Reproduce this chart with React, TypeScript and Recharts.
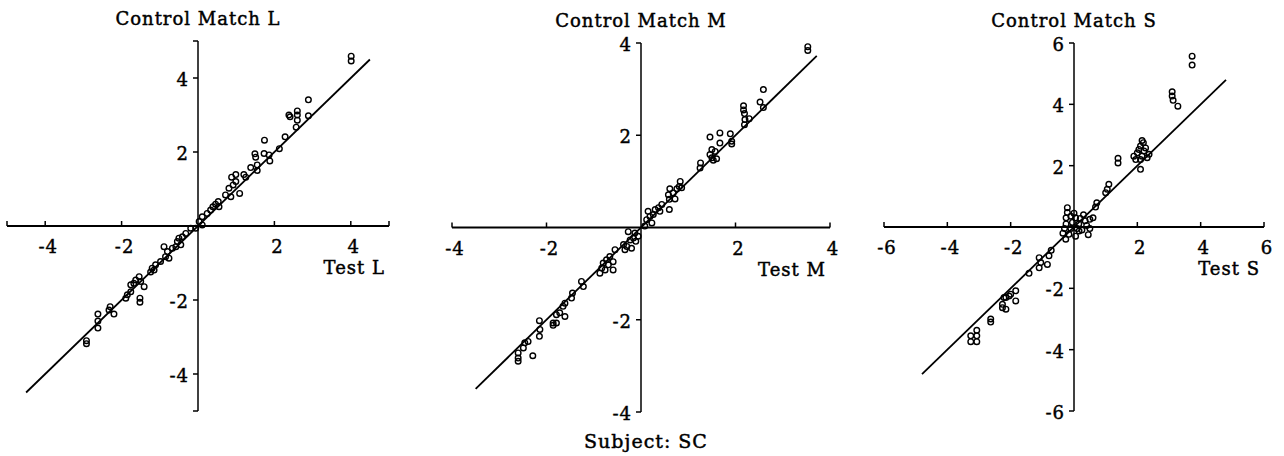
import React from 'react';
import { ScatterChart, Scatter, XAxis, YAxis, ReferenceLine, ReferenceDot } from 'recharts';

const FONT = '"DejaVu Serif", serif';

// ---------- Panel L ----------
const testL = [4.01, 4.01, 2.89, 2.89, 2.38, 2.41, 2.6, 2.6, 2.6, 2.57, 2.28, 2.13, 1.74, 1.49, 1.51, 1.73, 1.86, 1.88, 1.55, 1.55, 1.38, 1.2, 1.25, 0.99, 0.88, 0.99, 0.92, 1.09, 0.81, 0.86, 0.72, 0.53, 0.46, 0.39, 0.33, 0.55, 0.24, 0.11, 0.03, 0.11, -0.06, -0.19, -0.32, -0.41, -0.5, -0.54, -0.45, -0.58, -0.67, -0.8, -0.76, -0.89, -0.85, -0.98, -1.11, -1.2, -1.15, -1.24, -1.54, -1.63, -1.68, -1.76, -1.5, -1.41, -1.76, -1.85, -1.89, -1.52, -1.52, -2.3, -2.33, -2.2, -2.62, -2.62, -2.62, -2.92, -2.92];
const controlL = [4.59, 4.46, 3.41, 2.98, 3.0, 2.95, 3.11, 3.0, 2.86, 2.67, 2.41, 2.09, 2.32, 1.95, 1.86, 1.96, 1.92, 1.76, 1.65, 1.5, 1.58, 1.39, 1.32, 1.39, 1.32, 1.2, 1.11, 0.88, 1.02, 0.79, 0.84, 0.66, 0.59, 0.52, 0.43, 0.52, 0.34, 0.25, 0.12, 0.03, -0.06, -0.06, -0.2, -0.29, -0.33, -0.42, -0.51, -0.56, -0.6, -0.69, -0.87, -0.56, -0.83, -0.96, -1.05, -1.14, -1.19, -1.24, -1.37, -1.46, -1.55, -1.59, -1.5, -1.64, -1.78, -1.86, -1.95, -1.95, -2.06, -2.18, -2.27, -2.38, -2.38, -2.57, -2.76, -3.1, -3.18];
const ticksL = [-4, -2, 2, 4];

// ---------- Panel M ----------
const testM = [3.53, 3.53, 2.59, 2.52, 2.59, 2.17, 2.17, 2.19, 2.2, 2.19, 2.29, 1.89, 1.92, 1.92, 1.67, 1.67, 1.46, 1.5, 1.57, 1.46, 1.5, 1.6, 1.53, 1.26, 1.25, 0.83, 0.81, 0.76, 0.86, 0.68, 0.61, 0.58, 0.72, 0.6, 0.44, 0.37, 0.3, 0.15, 0.26, 0.4, 0.6, 0.19, 0.12, 0.23, 0.08, -0.27, -0.13, -0.16, -0.06, -0.23, -0.11, -0.3, -0.2, -0.37, -0.34, -0.55, -0.66, -0.73, -0.59, -0.8, -0.69, -0.83, -0.76, -0.87, -0.59, -1.26, -1.22, -1.45, -1.47, -1.61, -1.65, -1.72, -1.61, -1.79, -1.86, -1.79, -1.86, -2.15, -2.14, -2.15, -2.46, -2.49, -2.39, -2.6, -2.6, -2.6, -2.29];
const controlM = [3.92, 3.84, 2.99, 2.72, 2.6, 2.64, 2.55, 2.47, 2.34, 2.23, 2.36, 2.03, 1.87, 1.81, 2.05, 1.83, 1.96, 1.69, 1.65, 1.58, 1.51, 1.49, 1.46, 1.4, 1.29, 1.0, 0.89, 0.84, 0.86, 0.75, 0.84, 0.71, 0.62, 0.61, 0.5, 0.43, 0.39, 0.35, 0.28, 0.35, 0.39, 0.24, 0.17, 0.1, 0.03, -0.09, -0.12, -0.23, -0.19, -0.27, -0.3, -0.41, -0.45, -0.37, -0.48, -0.48, -0.63, -0.7, -0.74, -0.77, -0.81, -0.88, -0.92, -0.99, -0.92, -1.17, -1.28, -1.42, -1.53, -1.64, -1.71, -1.85, -1.93, -1.89, -2.07, -2.07, -2.12, -2.02, -2.21, -2.36, -2.5, -2.61, -2.47, -2.72, -2.83, -2.9, -2.78];
const ticksM = [-4, -2, 2, 4];

// ---------- Panel S ----------
const testS = [3.73, 3.73, 3.1, 3.1, 3.13, 3.28, 2.15, 2.19, 2.1, 2.26, 2.05, 1.89, 1.95, 2.15, 2.37, 2.31, 2.1, 2.1, 2.21, 2.0, 1.39, 1.39, 1.1, 1.05, 1.0, 0.72, 0.68, -0.21, -0.21, -0.25, -0.1, 0.05, 0.2, 0.35, 0.5, 0.6, 0.4, 0.15, -0.05, -0.25, -0.3, -0.1, 0.1, 0.25, 0.5, -0.16, 0.16, -0.26, 0.05, 0.45, -0.35, 0.3, 0.0, -0.72, -0.79, -1.1, -1.05, -1.1, -0.84, -1.42, -1.84, -2.0, -2.05, -2.15, -1.84, -2.26, -2.26, -2.15, -2.21, -2.63, -2.63, -3.07, -3.26, -3.07, -3.26, -3.07];
const controlS = [5.57, 5.28, 4.41, 4.27, 4.13, 3.94, 2.82, 2.75, 2.64, 2.58, 2.53, 2.31, 2.2, 2.31, 2.37, 2.26, 1.88, 2.2, 2.48, 2.42, 2.24, 2.09, 1.39, 1.23, 1.12, 0.79, 0.65, 0.63, 0.47, 0.3, 0.35, 0.3, 0.28, 0.2, 0.25, 0.3, 0.05, 0.1, 0.15, 0.1, -0.05, -0.05, -0.05, -0.1, -0.05, -0.24, -0.13, -0.4, -0.3, -0.25, -0.2, 0.4, 0.45, -0.76, -0.94, -1.0, -1.16, -1.33, -1.22, -1.51, -2.08, -2.19, -2.25, -2.3, -2.41, -2.52, -2.63, -2.68, -2.3, -3.0, -3.1, -3.37, -3.55, -3.55, -3.74, -3.74];
const ticksS = [-6, -4, -2, 2, 4, 6];

const Ring = (p: any) => (
  <circle cx={p.cx} cy={p.cy} r={2.8} fill="none" stroke="#000" strokeWidth={1.4} />
);

type PanelProps = {
  test: number[];
  control: number[];
  lim: number;
  ticks: number[];
  diag: [number, number];
  title: string;
  xlabel: string;
  left: number;
  width: number;
  margin: { top: number; right: number; bottom: number; left: number };
};

const txt = {
  fontFamily: FONT,
  fontSize: 18,
  letterSpacing: 1,
  fill: '#000',
  stroke: '#000',
  strokeWidth: 0.45,
} as const;

function Panel({ test, control, lim, ticks, diag, title, xlabel, left, width, margin }: PanelProps) {
  const data = test.map((x, i) => ({ x, y: control[i] }));
  const tickSet = Array.from(new Set([-lim, ...ticks, lim]));
  return (
    <div style={{ position: 'absolute', left, top: 0 }}>
      <ScatterChart width={width} height={456} margin={margin}>
        <XAxis type="number" dataKey="x" domain={[-lim, lim]} hide />
        <YAxis type="number" dataKey="y" domain={[-lim, lim]} hide />
        <ReferenceLine y={0} stroke="#000" strokeWidth={1.8} />
        <ReferenceLine x={0} stroke="#000" strokeWidth={1.5} />
        <ReferenceLine
          segment={[{ x: diag[0], y: diag[0] }, { x: diag[1], y: diag[1] }]}
          stroke="#000"
          strokeWidth={1.8}
        />
        {tickSet.map((v) => (
          <ReferenceDot
            key={'x' + v}
            x={v}
            y={0}
            r={1}
            shape={(p: any) => (
              <g>
                <line x1={p.cx} y1={p.cy} x2={p.cx} y2={p.cy - 5} stroke="#000" strokeWidth={1.5} />
                {ticks.includes(v) && (
                  <text x={p.cx + 3} y={p.cy + 27} textAnchor="middle" {...txt}>
                    {String(v)}
                  </text>
                )}
              </g>
            )}
          />
        ))}
        {tickSet.map((v) => (
          <ReferenceDot
            key={'y' + v}
            x={0}
            y={v}
            r={1}
            shape={(p: any) => (
              <g>
                <line x1={p.cx - 5} y1={p.cy} x2={p.cx} y2={p.cy} stroke="#000" strokeWidth={1.5} />
                {ticks.includes(v) && (
                  <text x={p.cx - 9} y={p.cy + 8} textAnchor="end" {...txt}>
                    {String(v)}
                  </text>
                )}
              </g>
            )}
          />
        ))}
        <ReferenceDot
          x={0}
          y={lim}
          r={1}
          shape={(p: any) => (
            <text x={p.cx} y={p.cy - 16} textAnchor="middle" {...txt}>
              {title}
            </text>
          )}
        />
        <ReferenceDot
          x={lim}
          y={0}
          r={1}
          shape={(p: any) => (
            <text x={p.cx - 4} y={p.cy + 48} textAnchor="end" {...txt}>
              {xlabel}
            </text>
          )}
        />
        <Scatter data={data} shape={Ring} isAnimationActive={false} />
      </ScatterChart>
    </div>
  );
}

export default function App() {
  return (
    <div style={{ position: 'absolute', left: 0, top: 0, width: 1284, height: 456, background: '#fff' }}>
      <Panel
        test={testL}
        control={controlL}
        lim={5}
        ticks={ticksL}
        diag={[-4.5, 4.5]}
        title="Control Match L"
        xlabel="Test L"
        left={0}
        width={420}
        margin={{ top: 41, right: 31, bottom: 45, left: 7 }}
      />
      <Panel
        test={testM}
        control={controlM}
        lim={4}
        ticks={ticksM}
        diag={[-3.5, 3.72]}
        title="Control Match M"
        xlabel="Test M"
        left={420}
        width={430}
        margin={{ top: 43, right: 20, bottom: 44, left: 32 }}
      />
      <Panel
        test={testS}
        control={controlS}
        lim={6}
        ticks={ticksS}
        diag={[-4.8, 4.8]}
        title="Control Match S"
        xlabel="Test S"
        left={850}
        width={434}
        margin={{ top: 43, right: 20, bottom: 45, left: 34 }}
      />
      <svg width={1284} height={456} style={{ position: 'absolute', left: 0, top: 0, pointerEvents: 'none' }}>
        <text x={646} y={448} textAnchor="middle" {...txt} fontSize={19}>
          Subject: SC
        </text>
      </svg>
    </div>
  );
}
